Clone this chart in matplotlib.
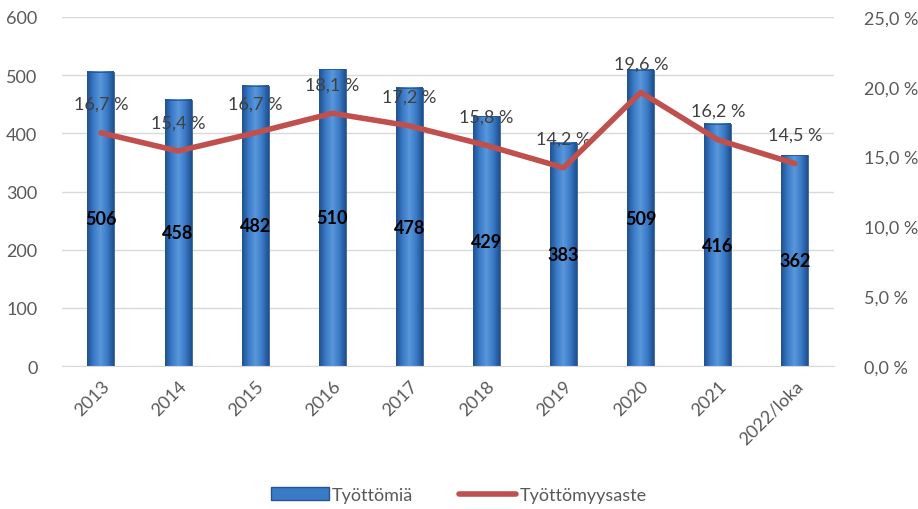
import matplotlib.pyplot as plt
import numpy as np
from matplotlib.colors import LinearSegmentedColormap
from matplotlib.patches import Rectangle
from matplotlib.lines import Line2D

plt.rcParams['font.family'] = ['Lato', 'DejaVu Sans']

years = ['2013', '2014', '2015', '2016', '2017', '2018', '2019', '2020', '2021', '2022/loka']
tyottomia = [506, 458, 482, 510, 478, 429, 383, 509, 416, 362]
aste = [16.7, 15.4, 16.7, 18.1, 17.2, 15.8, 14.2, 19.6, 16.2, 14.5]

grey = '#595959'
bar_cmap = LinearSegmentedColormap.from_list('bar', ['#1F4F8F', '#3A7BC8', '#5A97DA', '#3A7BC8', '#1F4F8F'])

fig = plt.figure(figsize=(9.18, 5.10), dpi=100)
ax = fig.add_axes([0.068, 0.28, 0.84, 0.685])
ax2 = ax.twinx()

x = np.arange(len(years))
width = 0.35
grad = np.linspace(0, 1, 64).reshape(1, -1)
for xi, v in zip(x, tyottomia):
    ax.imshow(grad, cmap=bar_cmap, aspect='auto', extent=[xi - width/2, xi + width/2, 0, v], zorder=2)
    ax.add_patch(Rectangle((xi - width/2, 0), width, v, fill=False, ec='#24558F', lw=0.6, zorder=3))
    ax.text(xi, v / 2, str(v), ha='center', va='center', fontsize=13, fontweight='bold', color='black', zorder=5)

ax.set_xlim(-0.5, len(years) - 0.5)
ax.set_ylim(0, 600)
ax.set_yticks(range(0, 601, 100))
ax.grid(True, axis='y', color='#D9D9D9', linewidth=1)
ax.set_axisbelow(True)
ax.set_xticks(x)
ax.set_xticklabels(years, rotation=45, ha='right', rotation_mode='anchor', fontsize=13, color=grey)
ax.tick_params(axis='y', length=0, labelsize=13, labelcolor=grey, pad=18)
ax.tick_params(axis='x', length=0, pad=8)
for s in ax.spines.values():
    s.set_visible(False)
ax.spines['bottom'].set_visible(True)
ax.spines['bottom'].set_color('#D9D9D9')

ax2.plot(x, aste, color='#C0504D', linewidth=4, solid_capstyle='round', solid_joinstyle='round', zorder=4)
for xi, p in zip(x, aste):
    ax2.annotate(f"{p:.1f} %".replace('.', ','), (xi, p), xytext=(0, 15), textcoords='offset points',
                 ha='center', va='bottom', fontsize=13, color='#404040')
ax2.set_ylim(0, 25)
ax2.set_yticks(range(0, 26, 5))
ax2.set_yticklabels([f"{v:.1f} %".replace('.', ',') for v in range(0, 26, 5)])
ax2.tick_params(axis='y', length=0, labelsize=13, labelcolor=grey, pad=22)
for s in ax2.spines.values():
    s.set_visible(False)

bar_handle = Rectangle((0, 0), 1, 1, fc='#3A7BC8', ec='#24558F')
line_handle = Line2D([0], [0], color='#C0504D', linewidth=4, solid_capstyle='round')
fig.legend([bar_handle, line_handle], ['Työttömiä', 'Työttömyysaste'], loc='lower center',
           bbox_to_anchor=(0.5, -0.02), ncol=2, frameon=False, fontsize=13, handlelength=3.2,
           handletextpad=0.2, columnspacing=2.5, labelcolor=grey)

fig.savefig('out.png', dpi=100)
